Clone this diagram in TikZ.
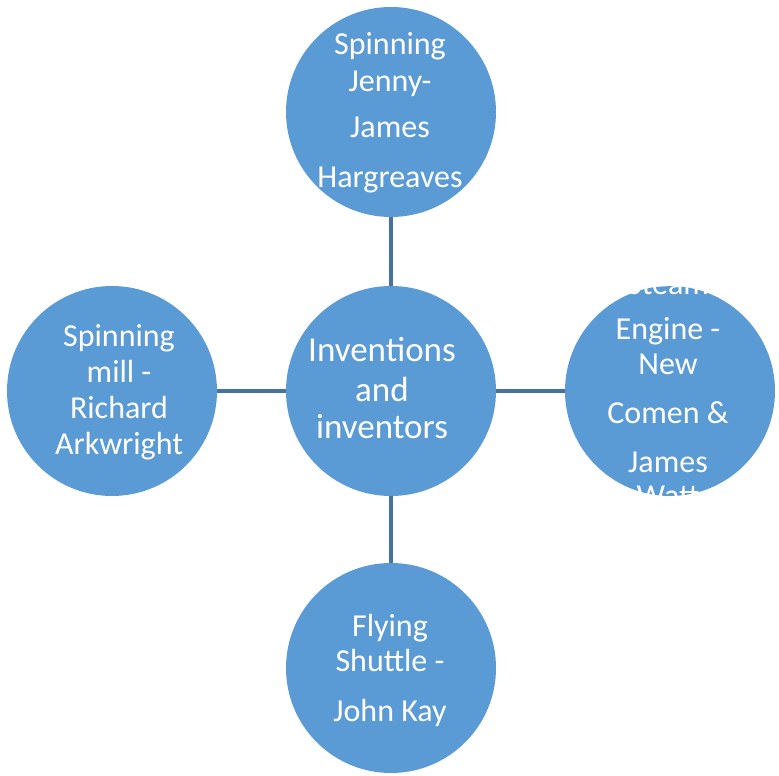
\documentclass[tikz,border=0pt]{standalone}
\usepackage{fontspec}
\setmainfont{Carlito}
\definecolor{bubble}{HTML}{5B9BD5}
\definecolor{stem}{HTML}{4472A8}

\begin{document}
\begin{tikzpicture}[x=1pt,y=1pt,
	words/.style={text=white,align=center,anchor=base,inner sep=0pt,
	              font=\fontsize{32}{36}\selectfont}]
	\useasboundingbox (0,0) rectangle (779,776);

	\begin{scope}[every node/.style={circle,fill=bubble,minimum size=210pt,inner sep=0pt}]
	    \node (inv) at (391,385) {};
	    \node (jenny) at (391,664) {};
	    \node (mill) at (112,385) {};
	    \node (engine) at (670,385) {};
	    \node (shuttle) at (391,108) {};
	\end{scope}

	\begin{scope}[every path/.style={draw=stem,line width=3.2pt}]
	    \path (jenny) -- (inv);
	    \path (mill) -- (inv);
	    \path (engine) -- (inv);
	    \path (shuttle) -- (inv);
	\end{scope}

	% base anchor sits on the last line
	\node[words,font=\fontsize{35}{39}\selectfont] (inv-txt) at (382,337) {Inventions\\[1pt]and\\[-2pt]inventors};
	\node[words] (jenny-txt) at (390,588) {Spinning\\[1pt]Jenny-\\[10pt]James\\[14pt]Hargreaves};
	\node[words] (mill-txt) at (119,321) {Spinning\\mill -\\Richard\\Arkwright};
	\node[words] (shuttle-txt) at (390,54) {Flying\\[-1pt]Shuttle -\\[14pt]John Kay};

	\begin{scope}
	    \clip (engine.south -| engine.west) rectangle (engine.north -| engine.east);
	    \node[words] (engine-txt) at (668,269) {Steam\\[9pt]Engine -\\[-1pt]New\\[13pt]Comen \&\\[13pt]James\\[-2pt]Watt};
	\end{scope}
\end{tikzpicture}
\end{document}
